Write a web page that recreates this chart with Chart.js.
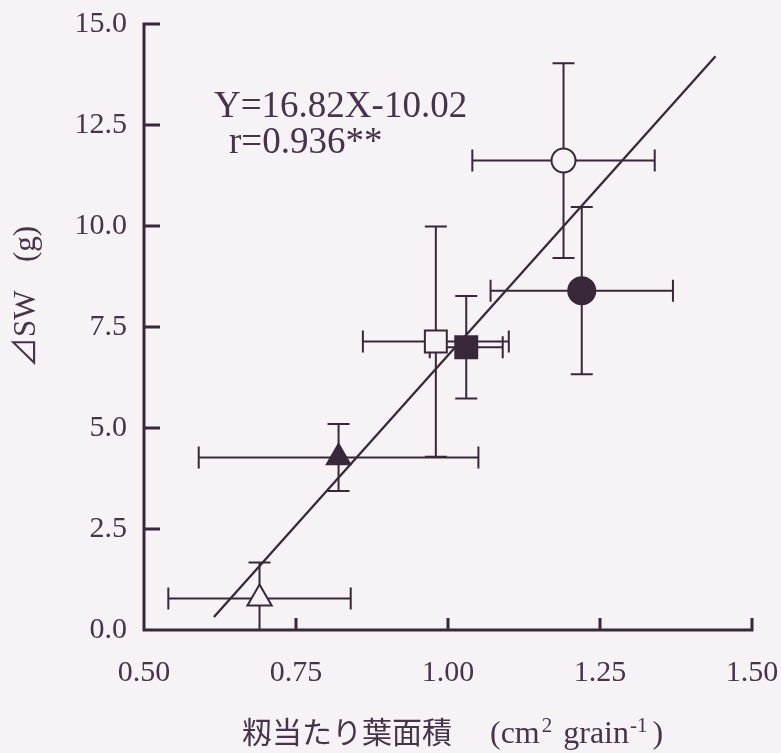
<!DOCTYPE html>
<html>
<head>
<meta charset="utf-8">
<script src="https://cdn.jsdelivr.net/npm/chart.js@4.4.1/dist/chart.umd.min.js"></script>
<style>
  html, body { margin: 0; padding: 0; background: #f6f2f5; }
  #wrap { width: 781px; height: 753px; }
</style>
</head>
<body>
<div id="wrap"><canvas id="c" width="781" height="753"></canvas></div>
<script>
// ---- data ----
const xTickLabels = ['0.50', '0.75', '1.00', '1.25', '1.50'];
const yTickLabels = ['0.0', '2.5', '5.0', '7.5', '10.0', '12.5', '15.0'];

// leaf area per grain (cm2 grain-1), mean and SD for each treatment
const leafArea   = [1.19, 1.22, 1.03, 0.98, 0.82, 0.69];
const leafAreaSD = [0.15, 0.15, 0.06, 0.12, 0.23, 0.15];
// ΔSW (g), mean and SD for each treatment
const deltaSW    = [11.62, 8.40, 7.00, 7.14, 4.27, 0.78];
const deltaSWSD  = [2.41, 2.07, 1.27, 2.85, 0.83, 0.89];

// regression
const slope = 16.82;
const intercept = -10.02;
const rText = '0.936';
const fitRange = [0.615, 1.44];

// ---- styling ----
const INK = '#38283a';
const TEXT = '#45344a';
const PAPER = '#f6f2f5';
const SERIF = "'Liberation Serif', 'Noto Sans CJK JP', serif";

const markers = [
  { style: 'circle',   radius: 12,   filled: false },
  { style: 'circle',   radius: 13.5, filled: true  },
  { style: 'rect',     radius: 15.5, filled: true  },
  { style: 'rect',     radius: 15.5, filled: false },
  { style: 'triangle', radius: 13.5, filled: true  },
  { style: 'triangle', radius: 14,   filled: false }
];

const datasets = leafArea.map((x, i) => ({
  type: 'scatter',
  data: [{ x: x, y: deltaSW[i] }],
  pointStyle: markers[i].style,
  pointRadius: markers[i].radius,
  pointHoverRadius: markers[i].radius,
  pointBackgroundColor: markers[i].filled ? INK : PAPER,
  pointBorderColor: INK,
  pointBorderWidth: 2,
  order: 2
}));

datasets.push({
  type: 'line',
  data: fitRange.map(x => ({ x: x, y: slope * x + intercept })),
  borderColor: INK,
  borderWidth: 2.3,
  pointRadius: 0,
  fill: false,
  tension: 0,
  order: 1
});

const labelFor = (list, v) => list.find(l => Math.abs(parseFloat(l) - v) < 1e-6) ?? '';

// fixed axis box sizes; no extra room for overhanging end labels
const fixBox = (size, key) => s => {
  s[key] = size;
  s.paddingLeft = 0; s.paddingRight = 0; s.paddingTop = 0; s.paddingBottom = 0;
};

// page background
const paperPlugin = {
  id: 'paper',
  beforeDraw(chart) {
    const ctx = chart.ctx;
    ctx.save();
    ctx.fillStyle = PAPER;
    ctx.fillRect(0, 0, chart.width, chart.height);
    ctx.restore();
  }
};

// horizontal and vertical SD bars with caps
const errorBarPlugin = {
  id: 'errorBars',
  beforeDatasetsDraw(chart) {
    const { ctx, chartArea, scales: { x, y } } = chart;
    ctx.save();
    ctx.beginPath();
    ctx.rect(chartArea.left, chartArea.top, chartArea.right - chartArea.left, chartArea.bottom - chartArea.top);
    ctx.clip();
    ctx.strokeStyle = INK;
    ctx.lineWidth = 2;
    const cap = 11;
    leafArea.forEach((xv, i) => {
      const px = x.getPixelForValue(xv);
      const py = y.getPixelForValue(deltaSW[i]);
      const x0 = x.getPixelForValue(xv - leafAreaSD[i]);
      const x1 = x.getPixelForValue(xv + leafAreaSD[i]);
      const y0 = y.getPixelForValue(deltaSW[i] - deltaSWSD[i]);
      const y1 = y.getPixelForValue(deltaSW[i] + deltaSWSD[i]);
      ctx.beginPath();
      ctx.moveTo(x0, py); ctx.lineTo(x1, py);
      ctx.moveTo(x0, py - cap); ctx.lineTo(x0, py + cap);
      ctx.moveTo(x1, py - cap); ctx.lineTo(x1, py + cap);
      ctx.moveTo(px, y0); ctx.lineTo(px, y1);
      ctx.moveTo(px - cap, y0); ctx.lineTo(px + cap, y0);
      ctx.moveTo(px - cap, y1); ctx.lineTo(px + cap, y1);
      ctx.stroke();
    });
    ctx.restore();
  }
};

// axis lines with inward tick marks
const axesPlugin = {
  id: 'axesInward',
  afterDatasetsDraw(chart) {
    const { ctx, scales: { x, y } } = chart;
    const left = x.getPixelForValue(0.5);
    const right = x.getPixelForValue(1.5);
    const bottom = y.getPixelForValue(0);
    const top = y.getPixelForValue(15);
    ctx.save();
    ctx.strokeStyle = INK;
    ctx.lineWidth = 3;
    ctx.lineCap = 'butt';
    ctx.beginPath();
    ctx.moveTo(left, top - 1.5);
    ctx.lineTo(left, bottom + 1.5);
    ctx.moveTo(left - 1.5, bottom);
    ctx.lineTo(right + 1.5, bottom);
    yTickLabels.forEach(l => {
      const py = y.getPixelForValue(parseFloat(l));
      ctx.moveTo(left, py);
      ctx.lineTo(left + 16, py);
    });
    xTickLabels.forEach(l => {
      const px = x.getPixelForValue(parseFloat(l));
      if (px <= left + 1) return;
      ctx.moveTo(px, bottom);
      ctx.lineTo(px, bottom - 12);
    });
    ctx.stroke();
    ctx.restore();
  }
};

// regression text and axis titles
const textPlugin = {
  id: 'texts',
  afterDraw(chart) {
    const ctx = chart.ctx;
    ctx.save();
    ctx.fillStyle = TEXT;
    ctx.textBaseline = 'alphabetic';
    ctx.textAlign = 'left';

    ctx.font = '37px ' + SERIF;
    ctx.fillText('Y=' + slope.toFixed(2) + 'X' + intercept.toFixed(2), 214, 117);
    ctx.fillText('r=' + rText + '**', 229, 153);

    // y title, rotated
    ctx.save();
    ctx.translate(35, 368);
    ctx.rotate(-Math.PI / 2);
    ctx.font = '31px ' + SERIF;
    ctx.fillText('⊿SW', 0, 0);
    ctx.fillText('(g)', 106, 0);
    ctx.restore();

    // x title
    const base = 743;
    let cx = 242;
    ctx.font = "30px 'Noto Sans CJK JP', sans-serif";
    ctx.fillText('籾当たり葉面積', cx, base);
    cx = 490;
    ctx.font = '32px ' + SERIF;
    ctx.fillText('(cm', cx, base);
    cx += ctx.measureText('(cm').width + 2;
    ctx.font = '21px ' + SERIF;
    ctx.fillText('2', cx, base - 11);
    cx += ctx.measureText('2').width + 11;
    ctx.font = '32px ' + SERIF;
    ctx.fillText('grain', cx, base);
    cx += ctx.measureText('grain').width + 1;
    ctx.font = '21px ' + SERIF;
    ctx.fillText('-1', cx, base - 11);
    cx += ctx.measureText('-1').width + 5;
    ctx.font = '32px ' + SERIF;
    ctx.fillText(')', cx, base);
    ctx.restore();
  }
};

new Chart(document.getElementById('c'), {
  type: 'scatter',
  data: { datasets: datasets },
  options: {
    responsive: false,
    animation: false,
    devicePixelRatio: 1,
    layout: { padding: { top: 24, right: 29, left: 0, bottom: 0 } },
    plugins: { legend: { display: false }, tooltip: { enabled: false } },
    scales: {
      x: {
        type: 'linear',
        min: 0.5,
        max: 1.5,
        afterFit: fixBox(123, 'height'),
        afterBuildTicks: s => { s.ticks = xTickLabels.map(l => ({ value: parseFloat(l) })); },
        ticks: {
          callback: v => labelFor(xTickLabels, v),
          color: TEXT,
          font: { family: SERIF, size: 30 },
          padding: 25,
          maxRotation: 0,
          autoSkip: false
        },
        grid: { display: false, drawTicks: false },
        border: { display: false }
      },
      y: {
        type: 'linear',
        min: 0,
        max: 15,
        afterFit: fixBox(144, 'width'),
        afterBuildTicks: s => { s.ticks = yTickLabels.map(l => ({ value: parseFloat(l) })); },
        ticks: {
          callback: v => labelFor(yTickLabels, v),
          color: TEXT,
          font: { family: SERIF, size: 30 },
          padding: 17,
          autoSkip: false
        },
        grid: { display: false, drawTicks: false },
        border: { display: false }
      }
    }
  },
  plugins: [paperPlugin, errorBarPlugin, axesPlugin, textPlugin]
});
</script>
</body>
</html>
